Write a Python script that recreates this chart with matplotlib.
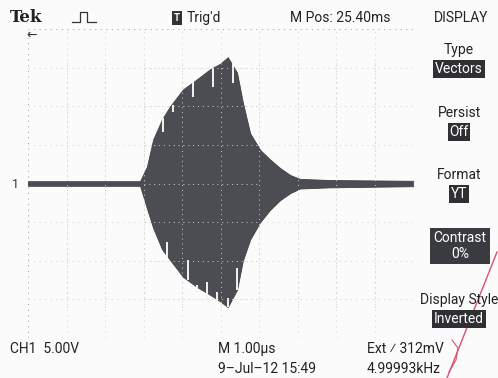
import numpy as np
import matplotlib.pyplot as plt
from matplotlib.lines import Line2D

plt.rcParams['font.family'] = ['Roboto', 'DejaVu Sans']

# envelope of the burst, in graticule divisions (x: 0..10, y: -4..4)
env_x = [0.0, 2.91, 3.09, 3.25, 3.48, 3.69, 4.03, 4.39, 4.73, 4.99, 5.19,
         5.43, 5.58, 5.77, 6.03, 6.29, 6.55, 6.81, 7.06, 7.84, 10.0]
env_top = [0.06, 0.06, 0.44, 1.14, 1.66, 2.0, 2.44, 2.7, 2.96, 3.1, 3.27,
           2.87, 2.1, 1.3, 0.87, 0.62, 0.4, 0.22, 0.12, 0.09, 0.07]
env_bot = [-0.06, -0.06, -0.65, -1.15, -1.7, -1.98, -2.42, -2.68, -2.88, -3.05, -3.2,
           -2.75, -2.0, -1.45, -1.0, -0.68, -0.43, -0.25, -0.13, -0.1, -0.07]

# white aliasing streaks inside the burst: x, y from, y to
streak_x = [3.51, 3.77, 4.29, 4.81, 5.32, 3.61, 4.16, 4.39, 4.65, 4.91, 5.19, 5.43]
streak_y0 = [1.34, 1.86, 2.25, 2.5, 2.6, -1.52, -1.99, -2.64, -2.56, -2.82, -2.97, -2.19]
streak_y1 = [1.70, 2.04, 2.64, 3.0, 3.2, -1.94, -2.5, -2.82, -2.97, -3.08, -3.2, -2.77]

menu_titles = ['Type', 'Persist', 'Format', 'Display Style']
menu_values = ['Vectors', 'Off', 'YT', 'Inverted']
menu_ys = [50, 113, 175, 300]

W, H = 498, 378
fig = plt.figure(figsize=(W / 100, H / 100), dpi=100)
fig.patch.set_facecolor('#fbfbfb')

def fx(x):
    return x / W

def fy(y):
    return 1 - y / H

ax = fig.add_axes([fx(28), fy(338), (413 - 28) / W, (338 - 29) / H])
ax.set_xlim(0, 10)
ax.set_ylim(-4, 4)
ax.set_facecolor('none')
for s in ax.spines.values():
    s.set_visible(False)
ax.set_xticks([])
ax.set_yticks([])

# graticule
for i in range(11):
    c = '#a8a8a8' if i == 0 else '#d6d6d6'
    ax.axvline(i, color=c, lw=0.8, ls=(0, (1, 4)), zorder=1)
for j in range(-4, 5):
    c = '#a8a8a8' if j == 4 else '#d6d6d6'
    ax.axhline(j, color=c, lw=0.8, ls=(0, (1, 4)), zorder=1)

ax.fill_between(env_x, env_bot, env_top, color='#4b4d52', lw=0.6, edgecolor='#3f4146', zorder=2)
ax.vlines(streak_x, streak_y0, streak_y1, color='#f4f4f4', lw=1.4, zorder=3)

# graticule dots showing through the burst
for i in range(1, 10):
    ax.axvline(i, color='#cfcfcf', lw=0.7, ls=(0, (1, 4)), zorder=4, ymin=0.1, ymax=0.9)
for j in range(-3, 4):
    ax.axhline(j, color='#cfcfcf', lw=0.7, ls=(0, (1, 4)), zorder=4, xmin=0.3, xmax=0.6)

# top status line
fig.text(fx(10), fy(18), 'Tek', fontsize=12, fontweight='bold', family='DejaVu Serif', va='center', color='#222222')
fig.add_artist(Line2D([fx(72), fx(80), fx(80), fx(87), fx(87), fx(96)],
                      [fy(22), fy(22), fy(12), fy(12), fy(22), fy(22)], color='#333333', lw=0.9))
fig.text(fx(177), fy(18), 'T', fontsize=7, va='center', ha='center', color='white', fontweight='bold',
         bbox=dict(boxstyle='square,pad=0.2', fc='#333333', ec='none'))
fig.text(fx(187), fy(18), "Trig'd", fontsize=10, va='center', color='#222222')
fig.text(fx(290), fy(18), 'M Pos: 25.40ms', fontsize=10, va='center', color='#222222')
fig.text(fx(488), fy(18), 'DISPLAY', fontsize=10, va='center', ha='right', color='#222222')
fig.text(fx(26), fy(35), '←', fontsize=9, va='center', color='#333333', family='DejaVu Sans')
fig.text(fx(12), fy(184), '1', fontsize=9, va='center', color='#333333')

# side menu
for t, v, y in zip(menu_titles, menu_values, menu_ys):
    fig.text(fx(459), fy(y), t, fontsize=10, va='center', ha='center', color='#222222')
    fig.text(fx(459), fy(y + 19), v, fontsize=10, va='center', ha='center', color='white',
             bbox=dict(boxstyle='square,pad=0.12', fc='#2f3033', ec='none'))
fig.text(fx(460), fy(246), 'Contrast\n0%', fontsize=10, va='center', ha='center', color='white',
         linespacing=1.1, bbox=dict(boxstyle='square,pad=0.25', fc='#3a3b3e', ec='none'))

# bottom status line
fig.text(fx(10), fy(349), 'CH1  5.00V', fontsize=10, va='center', color='#222222')
fig.text(fx(218), fy(349), 'M 1.00µs', fontsize=10, va='center', color='#222222')
fig.text(fx(218), fy(369), '9–Jul–12 15:49', fontsize=10, va='center', color='#222222')
fig.text(fx(367), fy(349), 'Ext ⁄ 312mV', fontsize=10, va='center', color='#222222')
fig.text(fx(367), fy(369), '4.99993kHz', fontsize=10, va='center', color='#222222')

# red pen mark
fig.add_artist(Line2D([fx(497), fx(447)], [fy(252), fy(378)], color='#d8506e', lw=1.0))
fig.add_artist(Line2D([fx(452), fx(458), fx(456), fx(449)], [fy(340), fy(348), fy(360), fy(372)],
                      color='#d8506e', lw=0.8))

fig.savefig('out.png', dpi=100, facecolor=fig.get_facecolor())
